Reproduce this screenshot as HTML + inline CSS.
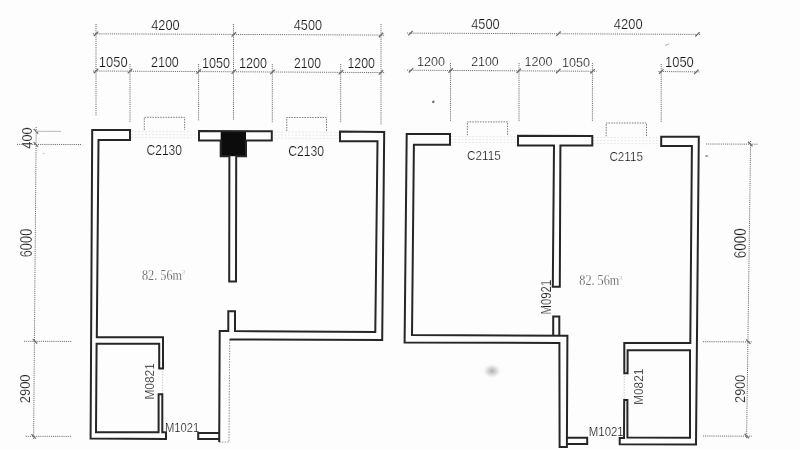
<!DOCTYPE html>
<html><head><meta charset="utf-8"><style>
html,body{margin:0;padding:0;background:#fdfdfd;}
svg{display:block;filter:grayscale(1);}
.w{fill:none;stroke:#262626;stroke-width:2;stroke-linejoin:miter;}
.fd{fill:none;stroke:#9a9a9a;stroke-width:1.1;stroke-dasharray:1.5 1.2;}
.fd2{stroke:#c4c4c4;stroke-width:1;stroke-dasharray:1.2 1.5;}
.win{fill:none;stroke:#7c7c7c;stroke-width:1;stroke-dasharray:1.5 1.1;}
.gl{stroke:#e9e9e9;stroke-width:1;stroke-dasharray:2 1.5;}
.dl{stroke:#6c6c6c;stroke-width:1;stroke-dasharray:1.1 1;}
.tk{stroke:#6a6a6a;stroke-width:1.3;}
.t{font-family:"Liberation Sans",sans-serif;fill:#161616;stroke:#fdfdfd;stroke-width:0.22;}
.tv{stroke-width:0.2;}
.a{font-family:"Liberation Serif",serif;fill:#333;stroke:#fdfdfd;stroke-width:0.3;}
</style></head><body>
<svg width="800" height="450" viewBox="0 0 800 450">
<rect width="800" height="450" fill="#fdfdfd"/>
<defs><radialGradient id="sm"><stop offset="0" stop-color="#9a9a9a" stop-opacity="0.8"/><stop offset="0.5" stop-color="#c0c0c0" stop-opacity="0.5"/><stop offset="1" stop-color="#fff" stop-opacity="0"/></radialGradient></defs>
<ellipse cx="492" cy="371" rx="10" ry="8" fill="url(#sm)"/>
<ellipse cx="433.3" cy="101.8" rx="1.1" ry="1.4" fill="#666" transform="rotate(40 433.3 101.8)"/>
<ellipse cx="706.6" cy="156.1" rx="1.6" ry="1.1" fill="#a0a0a0"/>
<line x1="665" y1="45.5" x2="669" y2="44" stroke="#bbb" stroke-width="1.2"/>
<circle cx="43.7" cy="153.5" r="0.8" fill="#bbb"/>
<line class="gl" x1="131" y1="131.5" x2="197" y2="131.8"/><line class="gl" x1="131" y1="134.5" x2="197" y2="134.8"/><line class="gl" x1="131" y1="137.5" x2="197" y2="137.8"/><line class="gl" x1="274" y1="132" x2="339" y2="132.3"/><line class="gl" x1="274" y1="135" x2="339" y2="135.3"/><line class="gl" x1="274" y1="138.2" x2="339" y2="138.5"/><line class="gl" x1="451" y1="136.5" x2="517" y2="136.8"/><line class="gl" x1="451" y1="139.4" x2="517" y2="139.70000000000002"/><line class="gl" x1="451" y1="142.4" x2="517" y2="142.70000000000002"/><line class="gl" x1="593" y1="137.5" x2="660" y2="137.8"/><line class="gl" x1="593" y1="140.5" x2="660" y2="140.8"/><line class="gl" x1="593" y1="143.4" x2="660" y2="143.70000000000002"/>
<line class="dl" x1="93" y1="33.8" x2="385" y2="35.1"/><line class="dl" x1="93" y1="71" x2="385" y2="72.6"/><line class="tk" x1="93.8" y1="36.0" x2="98.2" y2="31.599999999999998"/><line class="tk" x1="231.60000000000002" y1="36.6" x2="236.0" y2="32.199999999999996"/><line class="tk" x1="378.8" y1="37.2" x2="383.2" y2="32.8"/><line class="tk" x1="93.8" y1="73.2" x2="98.2" y2="68.8"/><line class="tk" x1="127.8" y1="73.4" x2="132.2" y2="69.0"/><line class="tk" x1="196.5" y1="73.7" x2="200.89999999999998" y2="69.3"/><line class="tk" x1="231.60000000000002" y1="73.9" x2="236.0" y2="69.5"/><line class="tk" x1="270.3" y1="74.10000000000001" x2="274.7" y2="69.7"/><line class="tk" x1="338.8" y1="74.4" x2="343.2" y2="70.0"/><line class="tk" x1="378.8" y1="74.60000000000001" x2="383.2" y2="70.2"/><line class="dl" x1="96" y1="24" x2="96" y2="116"/><line class="dl" x1="130" y1="64" x2="130" y2="122"/><line class="dl" x1="198.6" y1="64" x2="198.6" y2="121"/><line class="dl" x1="233.5" y1="24" x2="233.5" y2="120"/><line class="dl" x1="272.3" y1="64" x2="272.3" y2="123"/><line class="dl" x1="340.7" y1="64" x2="340.7" y2="123"/><line class="dl" x1="381" y1="24" x2="381" y2="125"/><line class="dl" x1="407" y1="33.1" x2="701" y2="34.4"/><line class="dl" x1="407" y1="70.2" x2="596.5" y2="71.3"/><line class="dl" x1="658.5" y1="71.5" x2="699.5" y2="71.9"/><line class="tk" x1="408.3" y1="35.400000000000006" x2="412.7" y2="31.000000000000004"/><line class="tk" x1="556.3" y1="35.900000000000006" x2="560.7" y2="31.500000000000004"/><line class="tk" x1="695.3" y1="36.5" x2="699.7" y2="32.099999999999994"/><line class="tk" x1="408.8" y1="72.5" x2="413.2" y2="68.1"/><line class="tk" x1="448.5" y1="72.7" x2="452.9" y2="68.3"/><line class="tk" x1="516.5999999999999" y1="73.0" x2="521.0" y2="68.6"/><line class="tk" x1="556.0999999999999" y1="73.2" x2="560.5" y2="68.8"/><line class="tk" x1="590.3" y1="73.5" x2="594.7" y2="69.1"/><line class="tk" x1="659.0999999999999" y1="73.8" x2="663.5" y2="69.39999999999999"/><line class="tk" x1="694.0999999999999" y1="74.0" x2="698.5" y2="69.6"/><line class="dl" x1="450.5" y1="63" x2="450.5" y2="121"/><line class="dl" x1="519" y1="63" x2="519" y2="122"/><line class="dl" x1="592.4" y1="63" x2="592.4" y2="121.5"/><line class="dl" x1="661.2" y1="64" x2="661.2" y2="122.6"/><line class="dl" x1="36.2" y1="127" x2="33.6" y2="439"/><line class="tk" x1="33.8" y1="129.10000000000002" x2="38.2" y2="133.5"/><line class="tk" x1="33.699999999999996" y1="142.20000000000002" x2="38.1" y2="146.6"/><line class="tk" x1="32.8" y1="339.1" x2="37.2" y2="343.5"/><line class="tk" x1="31.400000000000002" y1="434.1" x2="35.800000000000004" y2="438.5"/><line x1="36" y1="131.3" x2="61" y2="131.4" stroke="#b0b0b0" stroke-width="0.9"/><line class="dl" x1="17" y1="144.4" x2="81" y2="144.5"/><line class="dl" x1="24" y1="341.3" x2="72" y2="341.4"/><line class="dl" x1="25.7" y1="436.3" x2="71.5" y2="436.4"/><line class="dl" x1="750.6" y1="141" x2="746.6" y2="439"/><line class="tk" x1="748.0999999999999" y1="141.8" x2="752.5" y2="146.2"/><line class="tk" x1="746.0999999999999" y1="339.5" x2="750.5" y2="343.9"/><line class="tk" x1="744.5999999999999" y1="433.8" x2="749.0" y2="438.2"/><line class="dl" x1="706" y1="144" x2="757.5" y2="144.2"/><line class="dl" x1="703" y1="341.7" x2="752" y2="341.9"/><line class="dl" x1="703" y1="436" x2="752" y2="436.2"/>
<polyline class="win" points="144.3,130 144.3,117.3 184.6,117.3 184.6,130"/><polyline class="win" points="286.75,131 286.75,117.5 326.5,117.5 326.5,131"/><polyline class="win" points="467.4,135.2 467.4,121.9 507.6,121.9 507.6,135.2"/><polyline class="win" points="606.2,136.3 606.2,123 646.5,123 646.5,136.3"/>
<polyline class="fd" points="219.2,442.1 229,442 229.7,339.4"/><line class="fd2" x1="162.7" y1="368.5" x2="162.5" y2="394.3"/><line class="fd2" x1="624.3" y1="373.3" x2="624.2" y2="400"/>
<rect x="220.7" y="131" width="25.3" height="25.2" fill="#0c0c0c"/>
<polygon class="w" points="130.0,130.0 92.2,130.0 90.6,438.6 166.0,439.0 166.0,432.3 162.3,432.3 162.3,394.3 158.6,394.3 158.6,432.3 96.0,432.3 96.6,343.8 159.2,343.8 159.2,368.5 163.0,368.5 163.0,337.3 96.8,337.3 98.5,140.0 130.0,140.0"/><polygon class="w" points="199.0,131.0 271.8,131.2 271.8,140.5 246.0,140.5 246.0,156.2 236.2,156.2 236.0,281.5 229.2,281.5 229.4,156.2 220.7,156.2 220.7,140.5 199.0,140.5"/><polyline class="w" points="229.7,339.4 382.2,340.0 384.2,132.0 340.0,131.5 340.0,141.2 377.5,141.2 375.3,332.0 235.0,331.1 235.0,311.3 228.3,311.3 228.3,331.1 219.7,331.1 219.2,442.1"/><polyline class="w" points="219.2,432.9 198.2,432.9 198.2,439.1 219.2,439.1"/><polygon class="w" points="450.0,133.9 406.7,133.9 404.6,342.4 559.4,343.0 559.6,447.1 566.9,447.1 566.9,443.7 567.4,335.8 412.0,334.9 413.9,144.8 450.0,144.8"/><polyline class="w" points="553.2,335.6 553.2,316.6 559.3,316.6 559.3,335.7"/><polyline class="w" points="566.9,437.8 587.2,437.8 587.2,444.0 566.9,444.0"/><polygon class="w" points="518.0,135.7 592.3,135.9 592.3,145.4 560.4,145.4 559.8,286.8 552.8,286.8 554.0,145.4 518.0,145.4"/><polygon class="w" points="661.2,136.7 698.8,136.8 696.0,444.5 619.7,444.3 619.7,438.0 624.0,438.0 624.2,400.0 627.4,400.0 627.4,437.6 690.0,437.8 690.0,350.2 627.6,350.2 627.6,373.3 624.3,373.3 624.3,342.9 690.3,342.9 691.9,146.0 661.2,146.0"/>
<text class="t" x="151.2" y="29.9" font-size="15.22" textLength="28.5" lengthAdjust="spacingAndGlyphs">4200</text><text class="t" x="293.8" y="30.3" font-size="15.08" textLength="28.2" lengthAdjust="spacingAndGlyphs">4500</text><text class="t" x="98.8" y="67.3" font-size="14.39" textLength="28.8" lengthAdjust="spacingAndGlyphs">1050</text><text class="t" x="151.0" y="67.4" font-size="14.53" textLength="27.8" lengthAdjust="spacingAndGlyphs">2100</text><text class="t" x="202.0" y="67.5" font-size="14.66" textLength="28.0" lengthAdjust="spacingAndGlyphs">1050</text><text class="t" x="239.0" y="67.6" font-size="14.53" textLength="28.0" lengthAdjust="spacingAndGlyphs">1200</text><text class="t" x="294.0" y="67.9" font-size="14.53" textLength="27.0" lengthAdjust="spacingAndGlyphs">2100</text><text class="t" x="347.5" y="68.0" font-size="14.39" textLength="27.5" lengthAdjust="spacingAndGlyphs">1200</text><text class="t" x="471.2" y="28.9" font-size="13.83" textLength="28.5" lengthAdjust="spacingAndGlyphs">4500</text><text class="t" x="613.8" y="29.4" font-size="14.11" textLength="28.8" lengthAdjust="spacingAndGlyphs">4200</text><text class="t" x="417.0" y="65.9" font-size="13.41" textLength="28.0" lengthAdjust="spacingAndGlyphs">1200</text><text class="t" x="471.2" y="66.1" font-size="13.41" textLength="27.5" lengthAdjust="spacingAndGlyphs">2100</text><text class="t" x="524.5" y="66.3" font-size="13.41" textLength="28.0" lengthAdjust="spacingAndGlyphs">1200</text><text class="t" x="562.0" y="66.5" font-size="13.55" textLength="28.0" lengthAdjust="spacingAndGlyphs">1050</text><text class="t" x="665.0" y="67.4" font-size="14.53" textLength="28.8" lengthAdjust="spacingAndGlyphs">1050</text><text class="t" x="146.4" y="155.4" font-size="13.97" textLength="35.7" lengthAdjust="spacingAndGlyphs">C2130</text><text class="t" x="288.2" y="156.3" font-size="14.39" textLength="35.9" lengthAdjust="spacingAndGlyphs">C2130</text><text class="t" x="467.0" y="160.0" font-size="13.55" textLength="33.8" lengthAdjust="spacingAndGlyphs">C2115</text><text class="t" x="609.4" y="160.7" font-size="13.55" textLength="33.5" lengthAdjust="spacingAndGlyphs">C2115</text><text class="t" x="164.9" y="431.5" font-size="13.41" textLength="34.3" lengthAdjust="spacingAndGlyphs">M1021</text><text class="t" x="588.8" y="436.0" font-size="13.55" textLength="34.9" lengthAdjust="spacingAndGlyphs">M1021</text><text class="t tv" transform="translate(32.0,148.7) rotate(-90)" x="0" y="0" font-size="14.94" textLength="21.4" lengthAdjust="spacingAndGlyphs">400</text><text class="t tv" transform="translate(32.0,257.3) rotate(-90)" x="0" y="0" font-size="15.78" textLength="28.6" lengthAdjust="spacingAndGlyphs">6000</text><text class="t tv" transform="translate(30.0,403.3) rotate(-90)" x="0" y="0" font-size="15.50" textLength="28.9" lengthAdjust="spacingAndGlyphs">2900</text><text class="t tv" transform="translate(745.6,258.2) rotate(-90)" x="0" y="0" font-size="17.18" textLength="29.8" lengthAdjust="spacingAndGlyphs">6000</text><text class="t tv" transform="translate(744.7,402.9) rotate(-90)" x="0" y="0" font-size="14.94" textLength="28.2" lengthAdjust="spacingAndGlyphs">2900</text><text class="t tv" transform="translate(154.0,399.6) rotate(-90)" x="0" y="0" font-size="12.43" textLength="36.5" lengthAdjust="spacingAndGlyphs">M0821</text><text class="t tv" transform="translate(550.6,314.4) rotate(-90)" x="0" y="0" font-size="15.08" textLength="34.6" lengthAdjust="spacingAndGlyphs">M0921</text><text class="t tv" transform="translate(642.7,404.8) rotate(-90)" x="0" y="0" font-size="12.99" textLength="36.1" lengthAdjust="spacingAndGlyphs">M0821</text>
<text class="a" x="142" y="279.5" font-size="13.6" textLength="40" lengthAdjust="spacingAndGlyphs">82. 56m</text><text class="a" x="182.3" y="274" font-size="6">2</text><text class="a" x="579.3" y="284.9" font-size="13.6" textLength="40" lengthAdjust="spacingAndGlyphs">82. 56m</text><text class="a" x="619.5" y="279.5" font-size="6">2</text>
</svg>
</body></html>
